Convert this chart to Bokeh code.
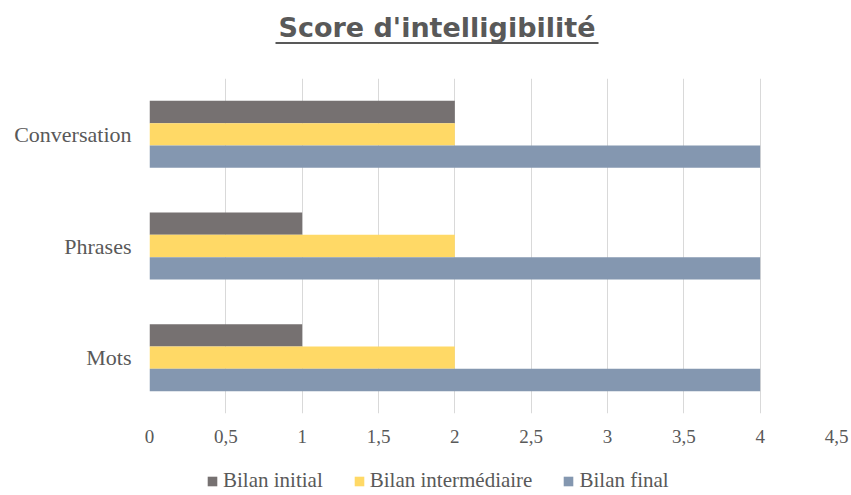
from bokeh.plotting import figure
from bokeh.layouts import column
from bokeh.models import (FactorRange, Range1d, FixedTicker, Legend, LegendItem,
                          ColumnDataSource)
from bokeh.core.properties import value
from bokeh.transform import dodge
from bokeh.embed import file_html
from bokeh.resources import INLINE

# ---- data ----
categories = ["Mots", "Phrases", "Conversation"]
bilan_initial = [1, 1, 2]
bilan_intermediaire = [2, 2, 2]
bilan_final = [4, 4, 4]
series_names = ["Bilan initial", "Bilan intermédiaire", "Bilan final"]
x_ticks = [0, 0.5, 1, 1.5, 2, 2.5, 3, 3.5, 4, 4.5]
x_tick_labels = ["0", "0,5", "1", "1,5", "2", "2,5", "3", "3,5", "4", "4,5"]
title_text = "Score d'intelligibilité"

colors = ["#767171", "#FFD966", "#8497B0"]
offsets = [0.2, 0.0, -0.2]
TXT = "#595959"
W = 850
TH = 66      # title strip height
MH = 402     # main chart height
LH = 26      # legend strip height
FL, FR = 149, 836   # frame left / right (px)


def bare(fig):
    fig.outline_line_color = None
    fig.grid.grid_line_color = None
    fig.background_fill_color = "white"
    fig.border_fill_color = "white"


# ---- title strip (text + underline) ----
t = figure(width=W, height=TH, output_backend="svg", toolbar_location=None,
           x_range=Range1d(FL, FR), y_range=Range1d(0, TH),
           x_axis_location=None, y_axis_location=None,
           min_border_left=FL, min_border_right=W - FR,
           min_border_top=0, min_border_bottom=0)
bare(t)
t.text(x=[436.5], y=[TH - 26.7], text=[title_text], text_align="center",
       text_baseline="middle", text_font=value("DejaVu Sans"),
       text_font_style="bold", text_font_size="27px", text_color=TXT)
t.segment(x0=[275], y0=[TH - 42.5], x1=[598], y1=[TH - 42.5],
          line_color=TXT, line_width=2)

# ---- main chart ----
src = ColumnDataSource(dict(cat=categories, init=bilan_initial,
                            inter=bilan_intermediaire, fin=bilan_final))

p = figure(width=W, height=MH, output_backend="svg", toolbar_location=None,
           y_range=FactorRange(factors=categories), x_range=Range1d(0, 4.5),
           min_border_left=FL, min_border_right=W - FR,
           min_border_top=78 - TH, min_border_bottom=TH + MH - 413)
p.outline_line_color = None
p.background_fill_color = "white"
p.border_fill_color = "white"

cols = ["init", "inter", "fin"]
for col, c, off in zip(cols, colors, offsets):
    p.hbar(y=dodge("cat", off, range=p.y_range), right=col, left=0,
           height=0.2, source=src, fill_color=c, line_color=None)

p.xaxis.ticker = FixedTicker(ticks=x_ticks)
p.xaxis.major_label_overrides = {tk: lb for tk, lb in zip(x_ticks, x_tick_labels)}
p.xaxis.axis_line_color = None
p.xaxis.major_tick_line_color = None
p.xaxis.major_tick_out = 0
p.xaxis.minor_tick_line_color = None
p.xaxis.minor_tick_out = 0
p.xaxis.major_label_text_font = "Liberation Serif"
p.xaxis.major_label_text_font_size = "19px"
p.xaxis.major_label_text_color = TXT
p.xaxis.major_label_standoff = 16

p.yaxis.axis_line_color = None
p.yaxis.major_tick_line_color = None
p.yaxis.major_tick_out = 0
p.yaxis.minor_tick_line_color = None
p.yaxis.major_label_text_font = "Liberation Serif"
p.yaxis.major_label_text_font_size = "22px"
p.yaxis.major_label_text_color = TXT
p.yaxis.major_label_standoff = 18

p.xgrid.grid_line_color = "#D9D9D9"
p.xgrid.grid_line_width = 1
p.ygrid.grid_line_color = None

# ---- legend strip (legend swatches only; its bars sit outside the visible range) ----
lg = figure(width=W, height=LH, output_backend="svg", toolbar_location=None,
            x_range=Range1d(0, 1), y_range=Range1d(0, 1),
            x_axis_location=None, y_axis_location=None,
            min_border_left=FL, min_border_right=W - FR,
            min_border_top=0, min_border_bottom=0)
bare(lg)
items = []
for n, col, c in zip(series_names, cols, colors):
    r = lg.hbar(y=-10, right=col, left=0, height=0.2, source=src,
                fill_color=c, line_color=None)
    items.append(LegendItem(label=n, renderers=[r]))
legend = Legend(items=items, orientation="horizontal", location=(206 - FL, 1),
                glyph_width=12, glyph_height=12, label_standoff=5, spacing=30,
                label_text_font="Liberation Serif", label_text_font_size="21px",
                label_text_color=TXT, border_line_color=None,
                background_fill_alpha=0, padding=0, margin=0)
lg.add_layout(legend, "center")

layout = column(t, p, lg, spacing=0)
open("out.html", "w").write(file_html(layout, INLINE))
